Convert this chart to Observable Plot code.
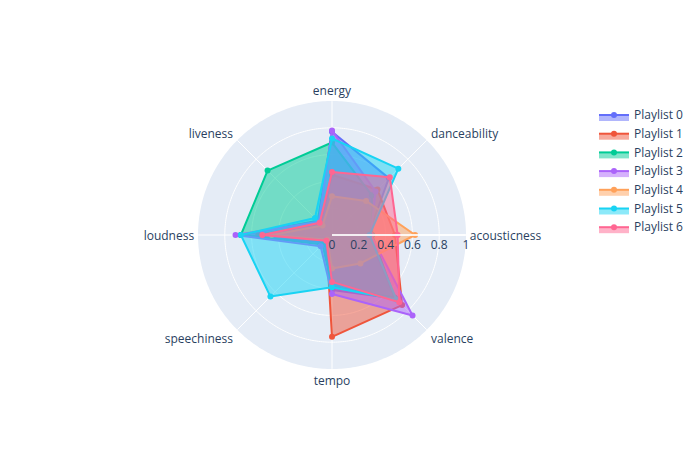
<!DOCTYPE html>
<html><head><meta charset="utf-8">
<script src="https://cdn.jsdelivr.net/npm/d3@7"></script>
<script src="https://cdn.jsdelivr.net/npm/@observablehq/plot@0.6"></script>
<style>
body{margin:0;background:#fff;font-family:"Open Sans",sans-serif;}
#wrap{position:relative;width:700px;height:450px;overflow:hidden;}
#wrap svg{position:absolute;left:0;top:0;}
</style></head><body><div id="wrap"></div>
<script>
// ---- data ----
const categories = ["acousticness","danceability","energy","liveness","loudness","speechiness","tempo","valence"];
const playlists = ["Playlist 0","Playlist 1","Playlist 2","Playlist 3","Playlist 4","Playlist 5","Playlist 6"];
const colors = ["#636efa","#EF553B","#00cc96","#ab63fa","#FFA15A","#19d3f3","#FF6692"];
const playlist0 = [0.27, 0.60, 0.77, 0.15, 0.68, 0.08, 0.41, 0.67];
const playlist1 = [0.47, 0.48, 0.45, 0.12, 0.55, 0.06, 0.76, 0.74];
const playlist2 = [0.30, 0.42, 0.69, 0.68, 0.68, 0.10, 0.39, 0.66];
const playlist3 = [0.29, 0.46, 0.78, 0.14, 0.72, 0.12, 0.44, 0.85];
const playlist4 = [0.62, 0.36, 0.29, 0.10, 0.45, 0.05, 0.25, 0.30];
const playlist5 = [0.28, 0.70, 0.72, 0.18, 0.68, 0.65, 0.39, 0.68];
const playlist6 = [0.49, 0.61, 0.47, 0.13, 0.52, 0.06, 0.35, 0.71];
const seriesValues = [playlist0, playlist1, playlist2, playlist3, playlist4, playlist5, playlist6];
const radialTicks = [0, 0.2, 0.4, 0.6, 0.8, 1];
const gridRadii = [0.2, 0.4, 0.6, 0.8];

// ---- helpers ----
const angleOf = (c) => categories.indexOf(c) * 360 / categories.length; // ccw from right
const lon = (c) => angleOf(c) + 90;
const lat = (v) => 90 - Math.min(v, 0.999);
const circle = (r) => d3.geoCircle().center([0, 90]).radius(r).precision(1)();
const ink = "#2a3f5f";

const marks = [
  Plot.geo([1], {geometry: circle, fill: "#e5ecf6", stroke: "none"}),
  Plot.geo(gridRadii, {geometry: circle, fill: "none", stroke: "white", strokeWidth: 1}),
  Plot.link(categories, {x1: lon, y1: 90, x2: lon, y2: lat(1), stroke: "white", strokeWidth: 1})
];

playlists.forEach((name, k) => {
  const rows = categories.map((c, i) => ({playlist: name, category: c, value: seriesValues[k][i]}));
  marks.push(
    Plot.line(rows, {x: d => lon(d.category), y: d => lat(d.value), curve: "linear-closed",
      fill: colors[k], fillOpacity: 0.5, stroke: colors[k], strokeWidth: 2, strokeLinejoin: "miter"}),
    Plot.dot(rows, {x: d => lon(d.category), y: d => lat(d.value), r: 3, fill: colors[k], stroke: "none"})
  );
});

// radial axis line on top
marks.push(Plot.link([0], {x1: lon("acousticness"), y1: 90, x2: lon("acousticness"), y2: lat(1), stroke: "#ffffff", strokeWidth: 2, strokeOpacity: 0.85}));
marks.push(Plot.text(radialTicks, {x: lon("acousticness"), y: d => lat(d), text: d => String(d), dy: 10, fill: ink, fontSize: 12, textAnchor: "middle"}));

categories.forEach((c) => {
  const a = angleOf(c) * Math.PI / 180;
  const cs = Math.cos(a), sn = Math.sin(a);
  const anchor = cs > 0.1 ? "start" : cs < -0.1 ? "end" : "middle";
  marks.push(Plot.text([c], {x: lon(c), y: lat(1), text: d => d, textAnchor: anchor,
    dx: 4 * cs + (Math.abs(cs) > 0.1 && Math.abs(sn) > 0.1 ? 1.5 * Math.sign(cs) : 0),
    dy: -11 * sn + 1.5, fill: ink, fontSize: 12}));
});

const chart = Plot.plot({
  width: 700, height: 450,
  marginLeft: 197.5, marginRight: 234.5, marginTop: 100.5, marginBottom: 81.5,
  style: {fontFamily: '"Open Sans", sans-serif', background: "transparent", overflow: "visible"},
  projection: {type: "azimuthal-equidistant", rotate: [0, -90], domain: circle(1), inset: 0},
  marks
});
document.getElementById("wrap").appendChild(chart);

// ---- legend ----
const leg = d3.select("#wrap").append("svg").attr("width", 700).attr("height", 450)
  .style("pointer-events", "none").style("font-family", '"Open Sans", sans-serif');
playlists.forEach((name, k) => {
  const g = leg.append("g").attr("transform", `translate(594,${115 + 18.7 * k})`);
  g.append("path").attr("d", "M5,0h30v6h-30z").attr("fill", colors[k]).attr("fill-opacity", 0.5);
  g.append("path").attr("d", "M5,0h30").attr("stroke", colors[k]).attr("stroke-width", 2).attr("fill", "none");
  g.append("circle").attr("cx", 20).attr("cy", 0).attr("r", 3).attr("fill", colors[k]);
  g.append("text").attr("x", 40).attr("y", 0).attr("dy", "0.35em").attr("font-size", 12).attr("fill", ink).text(name);
});
</script></body></html>
